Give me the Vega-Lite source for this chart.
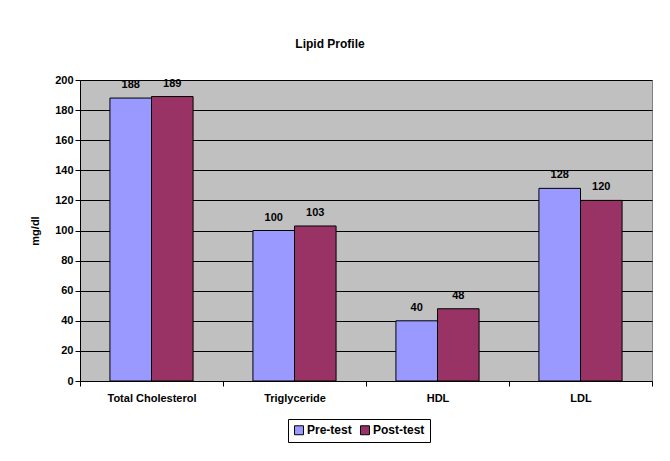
{
  "$schema": "https://vega.github.io/schema/vega-lite/v6.json",
  "width": 572,
  "height": 301,
  "autosize": {"type": "none"},
  "padding": {"left": 80, "top": 80, "right": 18, "bottom": 80},
  "background": "white",
  "title": {"text": "Lipid Profile", "font": "Liberation Sans", "fontSize": 12, "fontWeight": "bold", "color": "#000", "offset": 23, "dx": -36},
  "data": {"values": [
    {"cat": "Total Cholesterol", "test": "Pre-test", "v": 188},
    {"cat": "Total Cholesterol", "test": "Post-test", "v": 189},
    {"cat": "Triglyceride", "test": "Pre-test", "v": 100},
    {"cat": "Triglyceride", "test": "Post-test", "v": 103},
    {"cat": "HDL", "test": "Pre-test", "v": 40},
    {"cat": "HDL", "test": "Post-test", "v": 48},
    {"cat": "LDL", "test": "Pre-test", "v": 128},
    {"cat": "LDL", "test": "Post-test", "v": 120}
  ]},
  "encoding": {
    "x": {"field": "cat", "type": "nominal", "sort": null,
      "scale": {"paddingInner": 0, "paddingOuter": 0},
      "axis": {"title": null, "labelAngle": 0, "tickBand": "extent", "tickSize": 5, "tickColor": "#000", "domainColor": "#000", "labelPadding": 6, "grid": false}},
    "xOffset": {"field": "test", "type": "nominal", "sort": ["Pre-test", "Post-test"],
      "scale": {"paddingInner": 0, "paddingOuter": 0.72}},
    "y": {"field": "v", "type": "quantitative",
      "scale": {"domain": [0, 200], "nice": false},
      "axis": {"title": "mg/dl", "values": [0,20,40,60,80,100,120,140,160,180,200], "tickSize": 5, "tickColor": "#000", "domainColor": "#000", "gridColor": "#000", "gridOpacity": 1, "labelPadding": 2, "titlePadding": 14}}
  },
  "layer": [
    {
      "mark": {"type": "bar", "stroke": "#000", "strokeWidth": 1},
      "encoding": {
        "color": {"field": "test", "type": "nominal", "sort": ["Pre-test", "Post-test"],
          "scale": {"domain": ["Pre-test", "Post-test"], "range": ["#9999FF", "#993366"]},
          "legend": {"title": null, "orient": "none", "legendX": 208, "legendY": 339, "direction": "horizontal", "symbolType": "square", "symbolSize": 80, "symbolStrokeColor": "#000", "symbolStrokeWidth": 1, "strokeColor": "#000", "fillColor": "#fff", "padding": 5, "columnPadding": 6, "labelOffset": 2, "symbolOpacity": 1, "labelFontSize": 12}}
      }
    },
    {
      "mark": {"type": "text", "baseline": "alphabetic", "dy": -10, "font": "Liberation Sans", "fontSize": 11, "fontWeight": "bold", "color": "#000"},
      "encoding": {"text": {"field": "v", "type": "quantitative"}}
    }
  ],
  "config": {
    "view": {"fill": "#C0C0C0", "stroke": "#808080", "strokeWidth": 1},
    "axis": {"labelFont": "Liberation Sans", "labelFontSize": 11, "labelFontWeight": "bold", "labelColor": "#000", "titleFont": "Liberation Sans", "titleFontSize": 11, "titleFontWeight": "bold", "titleColor": "#000", "gridWidth": 1},
    "legend": {"labelFont": "Liberation Sans", "labelFontSize": 11, "labelFontWeight": "bold", "labelColor": "#000"}
  }
}
